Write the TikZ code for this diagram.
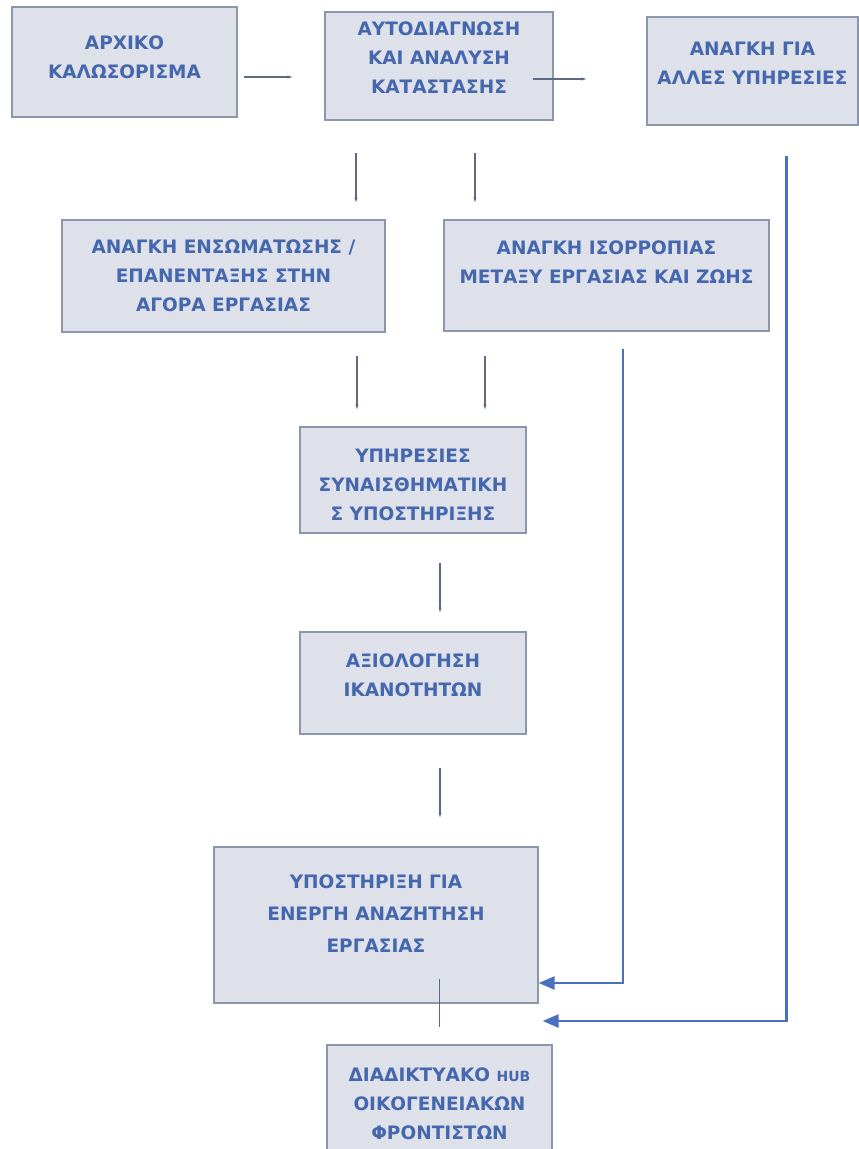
\documentclass[tikz,border=0pt]{standalone}
\usepackage{fontspec}
\setmainfont{DejaVu Sans}
\usetikzlibrary{arrows.meta}
\definecolor{boxfill}{HTML}{DEE1E9}
\definecolor{boxline}{HTML}{8D97AB}
\definecolor{txtblue}{HTML}{4467AE}
\definecolor{thinline}{HTML}{5F6A80}
\definecolor{flowblue}{HTML}{4A70C0}
\definecolor{flowgrey}{HTML}{6A82B8}
\begin{document}
\begin{tikzpicture}[x=1pt,y=-1pt,
		box/.style={draw=boxline, line width=1.3pt, fill=boxfill, inner sep=0pt},
		inscr/.style={text=txtblue, align=center, inner sep=0pt,
			font=\bfseries\fontsize{18.5}{29}\selectfont},
		link/.style={draw=thinline, line width=1.1pt, -{Stealth[length=5pt,width=3pt]}},
		feed/.style={line width=2.5pt, -{Triangle[length=16pt,width=13pt]}}
	]
	\useasboundingbox (0,0) rectangle (859,1149);
	\node[box, minimum width=225pt, minimum height=110pt] (welcome) at (124.5,62) {};
	\node[box, minimum width=228pt, minimum height=108pt] (selfdiag) at (439,66) {};
	\node[box, minimum width=211pt, minimum height=108pt] (otherserv) at (752.5,71) {};
	\node[box, minimum width=323pt, minimum height=112pt] (integr) at (223.5,276) {};
	\node[box, minimum width=325pt, minimum height=111pt] (balance) at (606.5,275.5) {};
	\node[box, minimum width=226pt, minimum height=106pt] (emosupp) at (413,480) {};
	\node[box, minimum width=226pt, minimum height=102pt] (skills) at (413,683) {};
	\node[box, minimum width=324pt, minimum height=156pt] (jobsearch) at (376,925) {};
	\node[box, minimum width=225pt, minimum height=118pt] (hub) at (439.5,1104) {};

	\node[inscr] (welcome-t) at ([yshift=5pt]welcome) {ΑΡΧΙΚΟ\\ΚΑΛΩΣΟΡΙΣΜΑ};
	\node[inscr] (selfdiag-t) at ([yshift=8pt]selfdiag) {ΑΥΤΟΔΙΑΓΝΩΣΗ\\ΚΑΙ ΑΝΑΛΥΣΗ\\ΚΑΤΑΣΤΑΣΗΣ};
	\node[inscr] (otherserv-t) at ([yshift=8pt]otherserv) {ΑΝΑΓΚΗ ΓΙΑ\\ΑΛΛΕΣ ΥΠΗΡΕΣΙΕΣ};
	\node[inscr] (integr-t) at (integr) {ΑΝΑΓΚΗ ΕΝΣΩΜΑΤΩΣΗΣ /\\ΕΠΑΝΕΝΤΑΞΗΣ ΣΤΗΝ\\ΑΓΟΡΑ ΕΡΓΑΣΙΑΣ};
	\node[inscr] (balance-t) at ([yshift=13pt]balance) {ΑΝΑΓΚΗ ΙΣΟΡΡΟΠΙΑΣ\\ΜΕΤΑΞΥ ΕΡΓΑΣΙΑΣ ΚΑΙ ΖΩΗΣ};
	\node[inscr] (emosupp-t) at ([yshift=-5pt]emosupp) {ΥΠΗΡΕΣΙΕΣ\\ΣΥΝΑΙΣΘΗΜΑΤΙΚΗ\\Σ ΥΠΟΣΤΗΡΙΞΗΣ};
	\node[inscr] (skills-t) at ([yshift=8pt]skills) {ΑΞΙΟΛΟΓΗΣΗ\\ΙΚΑΝΟΤΗΤΩΝ};
	\node[inscr, font=\bfseries\fontsize{18.5}{32}\selectfont] (jobsearch-t) at ([yshift=11pt]jobsearch)
		{ΥΠΟΣΤΗΡΙΞΗ ΓΙΑ\\ΕΝΕΡΓΗ ΑΝΑΖΗΤΗΣΗ\\ΕΡΓΑΣΙΑΣ};
	\node[inscr] (hub-t) at (hub)
		{ΔΙΑΔΙΚΤΥΑΚΟ {\fontsize{14}{29}\selectfont HUB}\\ΟΙΚΟΓΕΝΕΙΑΚΩΝ\\ΦΡΟΝΤΙΣΤΩΝ};

	\draw[link, shorten >=32pt] ([xshift=6pt,yshift=-15pt]welcome.east)
		-- ([yshift=-15pt]welcome.east -| selfdiag.west);
	\draw[link, shorten >=60pt] ([xshift=-21pt,yshift=-13pt]selfdiag.east)
		-- ([yshift=-13pt]selfdiag.east -| otherserv.west);
	\draw[link, shorten <=32pt, shorten >=17pt] ([xshift=-83pt]selfdiag.south)
		-- ([xshift=-83pt]selfdiag.south |- integr.north);
	\draw[link, shorten <=32pt, shorten >=17pt] ([xshift=36pt]selfdiag.south)
		-- ([xshift=36pt]selfdiag.south |- balance.north);
	\draw[link, shorten <=23pt, shorten >=17pt] ([xshift=-56pt]emosupp.north |- integr.south)
		-- ([xshift=-56pt]emosupp.north);
	\draw[link, shorten <=24pt, shorten >=17pt] ([xshift=72pt]emosupp.north |- balance.south)
		-- ([xshift=72pt]emosupp.north);
	\draw[link, shorten <=29pt, shorten >=19pt] ([xshift=27pt]emosupp.south)
		-- ([xshift=27pt]emosupp.south |- skills.north);
	\draw[link, shorten <=33pt, shorten >=29pt] ([xshift=27pt]skills.south)
		-- ([xshift=27pt]skills.south |- jobsearch.north);
	\draw[link, -, shorten >=17pt] ([yshift=25pt]hub.north |- jobsearch.south)
		-- (hub.north);

	\draw[feed, draw=flowgrey, flowblue] ([xshift=16.5pt,yshift=-17pt]balance.south)
		|- ([yshift=-58pt]jobsearch.east);
	\draw[feed, draw=flowblue, flowblue] ([xshift=34pt,yshift=-30pt]otherserv.south)
		|- ([xshift=4pt,yshift=-96pt]jobsearch.east);
\end{tikzpicture}
\end{document}
